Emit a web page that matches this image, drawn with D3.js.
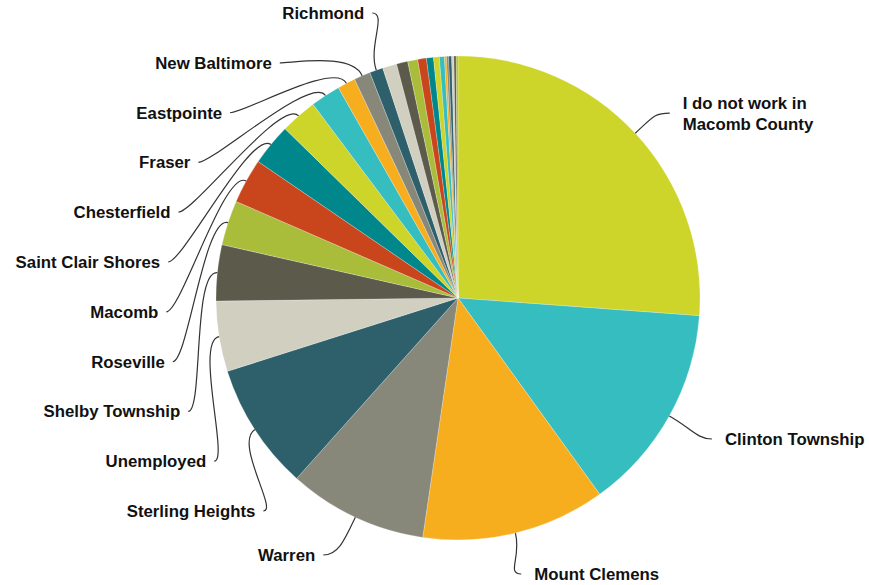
<!DOCTYPE html>
<html>
<head>
<meta charset="utf-8">
<script src="https://cdn.jsdelivr.net/npm/d3@7"></script>
<style>
  html, body { margin: 0; padding: 0; background: #fff; }
  svg { display: block; }
</style>
</head>
<body>
<svg id="chart" width="869" height="585"></svg>
<script>
// ---- data (approximate shares in %) ----
const categories = [
  "I do not work in Macomb County", "Clinton Township", "Mount Clemens", "Warren",
  "Sterling Heights", "Unemployed", "Shelby Township", "Roseville", "Macomb",
  "Saint Clair Shores", "Chesterfield", "Fraser", "Eastpointe", "New Baltimore",
  "Richmond",
  "Unlabeled 1", "Unlabeled 2", "Unlabeled 3", "Unlabeled 4", "Unlabeled 5",
  "Unlabeled 6", "Unlabeled 7", "Unlabeled 8", "Unlabeled 9", "Unlabeled 10",
  "Unlabeled 11", "Unlabeled 12", "Unlabeled 13"
];
const values = [
  26.2, 13.9, 12.3, 9.3,
  8.5, 4.7, 3.75, 3.0, 3.0,
  2.8, 2.45, 2.0, 1.2, 1.1,
  0.9,
  0.95, 0.75, 0.67, 0.58, 0.47,
  0.39, 0.33, 0.14, 0.14, 0.2,
  0.15, 0.15, 0.12
];
// which categories carry a visible label
const labeled = [
  "I do not work in Macomb County", "Clinton Township", "Mount Clemens", "Warren",
  "Sterling Heights", "Unemployed", "Shelby Township", "Roseville", "Macomb",
  "Saint Clair Shores", "Chesterfield", "Fraser", "Eastpointe", "New Baltimore",
  "Richmond"
];
const labelLines = {
  "I do not work in Macomb County": ["I do not work in", "Macomb County"]
};
const palette = ["#cdd42a", "#35bdbf", "#f6ae1f", "#88887a", "#2e606c",
                 "#d1cfc0", "#5b5a4b", "#a9bd3b", "#c9451c", "#00878b"];

// ---- layout ----
const W = 869, H = 585;
const cx = 458, cy = 298, r = 242, R = 300;
const svg = d3.select("#chart");
const g = svg.append("g").attr("transform", `translate(${cx},${cy})`);

const color = d3.scaleOrdinal().domain(categories).range(palette);
const pie = d3.pie().sort(null).value((d, i) => values[i]).startAngle(0).endAngle(2 * Math.PI);
const arcs = pie(categories);
const arc = d3.arc().innerRadius(0).outerRadius(r);

g.selectAll("path.slice").data(arcs).join("path")
  .attr("class", "slice")
  .attr("d", arc)
  .attr("fill", d => color(d.data))
  .attr("stroke", "#ffffff")
  .attr("stroke-width", 0.4)
  .attr("stroke-opacity", 0.6);

// ---- labels ----
const lab = arcs.filter(d => labeled.includes(d.data))
  .map(d => Object.assign({}, d, { mid: (d.startAngle + d.endAngle) / 2 }));
const right = lab.filter(d => d.mid < Math.PI);
const left = lab.filter(d => d.mid >= Math.PI).sort((a, b) => b.mid - a.mid);

right.forEach(d => {
  d.side = 1;
  d.ax = R * Math.sin(d.mid);
  d.ay = Math.min(-R * Math.cos(d.mid) * 0.93 + 5, H - cy - 8);
  d.tx = d.ax + 5;
});
left.forEach((d, i) => {
  d.side = -1;
  const yy = Math.min(13 + i * 49.8, 555) - cy;
  d.ay = yy;
  const RR = R + (yy > 200 ? -6 : 0);
  d.ax = -Math.sqrt(Math.max(RR * RR - yy * yy, 0));
  d.tx = d.ax;
});

const lblG = svg.append("g").attr("transform", `translate(${cx},${cy})`);
lab.forEach(d => {
  const dirx = Math.sin(d.mid), diry = -Math.cos(d.mid);
  const p0 = [r * dirx, r * diry];
  const c1 = [(r + 25) * dirx, (r + 25) * diry];
  const end = [d.tx + (d.side > 0 ? -13 : 8), d.ay];
  const c2 = [end[0] + (d.side > 0 ? -15 : 15), end[1]];
  const p = d3.path();
  p.moveTo(p0[0], p0[1]);
  p.bezierCurveTo(c1[0], c1[1], c2[0], c2[1], end[0], end[1]);
  lblG.append("path").attr("d", p.toString())
    .attr("fill", "none").attr("stroke", "#333").attr("stroke-width", 1.2);

  const lines = labelLines[d.data] || [d.data];
  const t = lblG.append("text")
    .attr("x", d.tx)
    .attr("y", d.ay)
    .attr("text-anchor", d.side > 0 ? "start" : "end")
    .attr("font-family", "'Liberation Sans', Arial, sans-serif")
    .attr("font-weight", "bold")
    .attr("font-size", 16.8)
    .attr("fill", "#111");
  lines.forEach((s, k) => {
    t.append("tspan")
      .attr("x", d.tx)
      .attr("dy", k === 0 ? (6 - (lines.length - 1) * 10.5) : 21)
      .text(s);
  });
});
</script>
</body>
</html>
